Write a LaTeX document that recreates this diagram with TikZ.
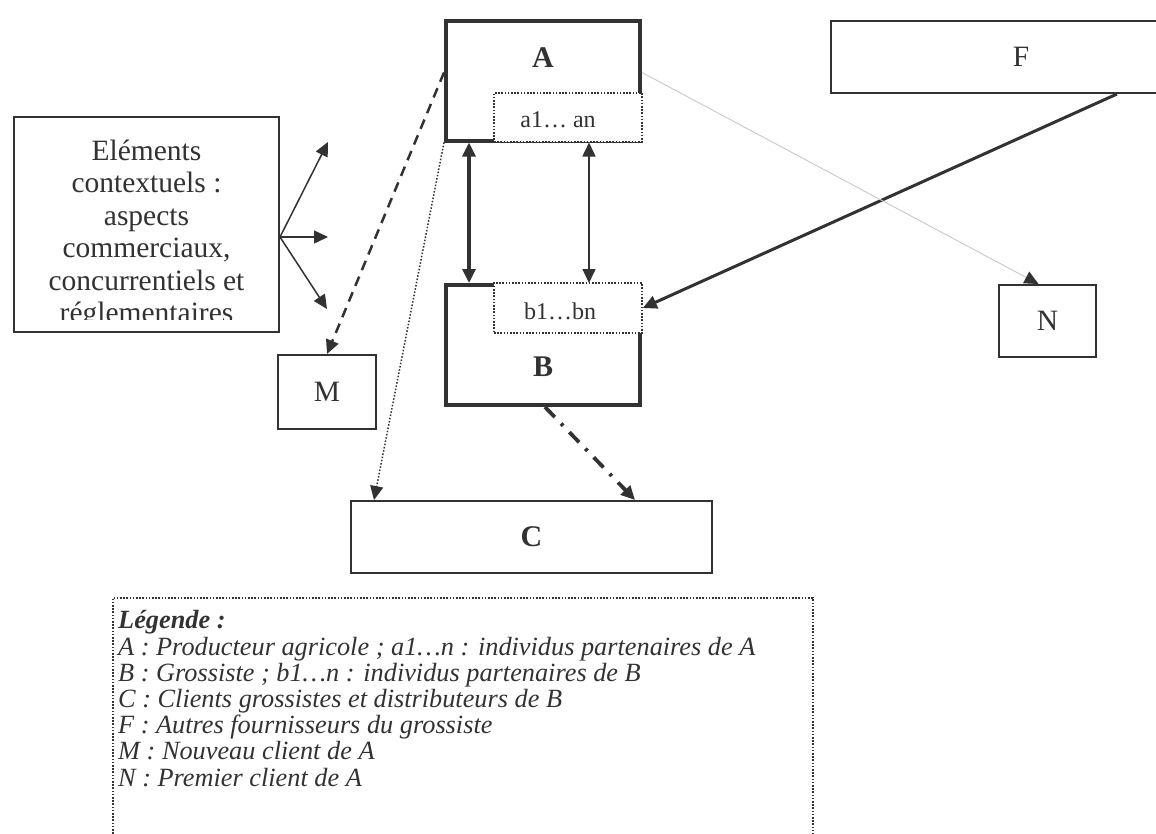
\documentclass[tikz,border=0pt]{standalone}
\usepackage{fontspec}
\setmainfont{Liberation Serif}
\usetikzlibrary{arrows.meta}
\definecolor{ink}{RGB}{50,50,50}
\definecolor{faint}{RGB}{200,200,200}
\begin{document}
\begin{tikzpicture}[x=1pt,y=-1pt,
  >={Triangle[length=14pt,width=13pt]},
  every node/.style={inner sep=0pt, text=ink},
  plainbox/.style={draw=ink, line width=2pt, fill=white},
  mainbox/.style={draw=ink, line width=4pt, fill=white},
  subbox/.style={draw=ink, line width=1.6pt, dash pattern=on 1.6pt off 1.6pt, fill=white},
  bigtext/.style={font=\fontsize{29.5}{32.5}\selectfont},
  boldtext/.style={font=\bfseries\fontsize{30}{32}\selectfont},
  smalltext/.style={font=\fontsize{24}{26}\selectfont},
  legtext/.style={font=\itshape\fontsize{26.3}{26.2}\selectfont},
  link/.style={draw=ink, line width=1.5pt, ->}
]
\useasboundingbox (0,0) rectangle (1156,833);

% main boxes A and B
\node[mainbox, minimum width=194pt, minimum height=120pt] (A) at (543,80.5) {};
\node[boldtext] (Alab) at (543,58) {A};
\node[subbox, minimum width=148pt, minimum height=49pt] (a1) at (568,117.5) {};
\node[smalltext] (a1t) at (558,120) {a1… an};

\node[mainbox, minimum width=194pt, minimum height=120pt] (B) at (543,345) {};
\node[boldtext] (Blab) at (543,367) {B};
\node[subbox, minimum width=148pt, minimum height=50pt] (b1) at (568,308) {};
\node[smalltext] (b1t) at (560,311) {b1…bn};

% other boxes
\node[plainbox, bigtext, minimum width=380pt, minimum height=72pt] (F) at (1021,57) {F};
\node[plainbox, bigtext, minimum width=97pt, minimum height=72pt] (N) at (1047.5,321) {N};
\node[plainbox, bigtext, minimum width=98pt, minimum height=74pt] (M) at (327,392) {M};
\node[plainbox, boldtext, minimum width=361pt, minimum height=72pt] (C) at (531.5,537) {C};
\node[plainbox, minimum width=265pt, minimum height=215pt] (ctx) at (146.5,224.5) {};
\begin{scope}
  \clip ([shift={(2pt,-2pt)}]ctx.north west) rectangle ([shift={(-2pt,14pt)}]ctx.south east);
  \node[bigtext, align=center, anchor=base] (ctxt) at (146.5,322.5) {Eléments\\contextuels :\\aspects\\commerciaux,\\concurrentiels et\\réglementaires};
\end{scope}

% free ends of the context arrows
\coordinate (e1) at (328,142);
\coordinate (e2) at (328,237);
\coordinate (e3) at (327,309);
\draw[link] ([yshift=-12.5pt]ctx.east) -- (e1);
\draw[link] ([yshift=-12.5pt]ctx.east) -- (e2);
\draw[link] ([yshift=-12.5pt]ctx.east) -- (e3);

% A <-> B
\draw[draw=ink, line width=3.2pt, <->] ([xshift=25pt]A.south west) -- ([xshift=25pt]B.north west);
\draw[draw=ink, line width=1.5pt, <->] ([xshift=145pt]A.south west) -- ([xshift=145pt]B.north west);

% F -> b1
\draw[draw=ink, line width=3pt, ->] ([xshift=287pt]F.south west) -- (b1.east);

% A -> N (faint)
\draw[draw=faint, line width=0.9pt, -{Triangle[length=14pt,width=13pt,color=ink]}] ([yshift=8pt]A.east) -- ([xshift=-9pt]N.north);

% A -> M dashed
\draw[draw=ink, line width=2.5pt, dash pattern=on 10pt off 7pt, ->] ([yshift=8pt]A.west) -- (M.north);

% A -> C dotted
\draw[draw=ink, line width=1.5pt, dash pattern=on 1.5pt off 1.8pt, ->] (A.south west) -- ([xshift=24pt]C.north west);

% B -> C dash-dot
\draw[draw=ink, line width=3.8pt, dash pattern=on 14pt off 9pt on 3pt off 9pt, ->] ([xshift=2pt]B.south) -- ([xshift=285pt]C.north west);

% legend
\node[draw=ink, line width=1.6pt, dash pattern=on 1.6pt off 1.6pt, anchor=north west, minimum width=700pt, minimum height=260pt] (leg) at (112,597) {};
\node[legtext, align=left, anchor=base west] (legt) at (118,786) {\textbf{Légende :}\\
A : Producteur agricole ; a1…n : individus partenaires de A\\
B : Grossiste ; b1…n : individus partenaires de B\\
C : Clients grossistes et distributeurs de B\\
F : Autres fournisseurs du grossiste\\
M : Nouveau client de A\\
N : Premier client de A};
\end{tikzpicture}
\end{document}
